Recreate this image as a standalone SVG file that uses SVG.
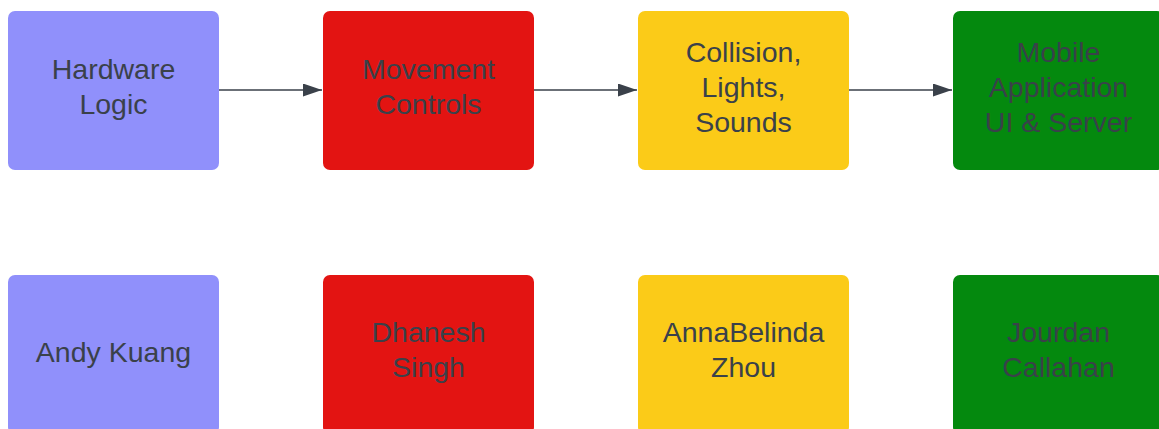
<svg xmlns="http://www.w3.org/2000/svg" width="1159" height="429" viewBox="0 0 1159 429">
<defs>
<style>
.box{stroke:none}
.t{font-family:"Liberation Sans",Arial,sans-serif;font-size:28.5px;fill:#3a414a;text-anchor:middle}
.c{stroke:#3a414a;stroke-width:1.5;fill:none}
</style>
<marker id="ah" viewBox="0 0 19 13" refX="19" refY="6.5" markerWidth="19" markerHeight="13" markerUnits="userSpaceOnUse" orient="auto">
<path d="M0,0 L19,6.5 L0,13 Z" fill="#3a414a"/>
</marker>
</defs>
<rect width="1159" height="429" fill="#ffffff"/>
<g id="connectors">
<line class="c" x1="219" y1="90" x2="322" y2="90" marker-end="url(#ah)"/>
<line class="c" x1="534" y1="90" x2="637" y2="90" marker-end="url(#ah)"/>
<line class="c" x1="849" y1="90" x2="952" y2="90" marker-end="url(#ah)"/>
</g>
<g id="hardware">
<rect class="box" x="8" y="11" width="211" height="159" rx="7" fill="#9090fb"/>
<text class="t" x="113.5" y="79">Hardware</text>
<text class="t" x="113.5" y="114">Logic</text>
</g>
<g id="movement">
<rect class="box" x="323" y="11" width="211" height="159" rx="7" fill="#e31412"/>
<text class="t" x="428.5" y="79">Movement</text>
<text class="t" x="428.5" y="114">Controls</text>
</g>
<g id="collision">
<rect class="box" x="638" y="11" width="211" height="159" rx="7" fill="#fbcb18"/>
<text class="t" x="743.5" y="62">Collision,</text>
<text class="t" x="743.5" y="97">Lights,</text>
<text class="t" x="743.5" y="132">Sounds</text>
</g>
<g id="mobile">
<rect class="box" x="953" y="11" width="211" height="159" rx="7" fill="#04890e"/>
<text class="t" x="1058.5" y="62">Mobile</text>
<text class="t" x="1058.5" y="97">Application</text>
<text class="t" x="1058.5" y="132">UI &amp; Server</text>
</g>
<g id="andy">
<rect class="box" x="8" y="275" width="211" height="159" rx="7" fill="#9090fb"/>
<text class="t" x="113.5" y="362">Andy Kuang</text>
</g>
<g id="dhanesh">
<rect class="box" x="323" y="275" width="211" height="159" rx="7" fill="#e31412"/>
<text class="t" x="428.5" y="342">Dhanesh</text>
<text class="t" x="428.5" y="377">Singh</text>
</g>
<g id="anna">
<rect class="box" x="638" y="275" width="211" height="159" rx="7" fill="#fbcb18"/>
<text class="t" x="743.5" y="342">AnnaBelinda</text>
<text class="t" x="743.5" y="377">Zhou</text>
</g>
<g id="jourdan">
<rect class="box" x="953" y="275" width="211" height="159" rx="7" fill="#04890e"/>
<text class="t" x="1058.5" y="342">Jourdan</text>
<text class="t" x="1058.5" y="377">Callahan</text>
</g>
</svg>
